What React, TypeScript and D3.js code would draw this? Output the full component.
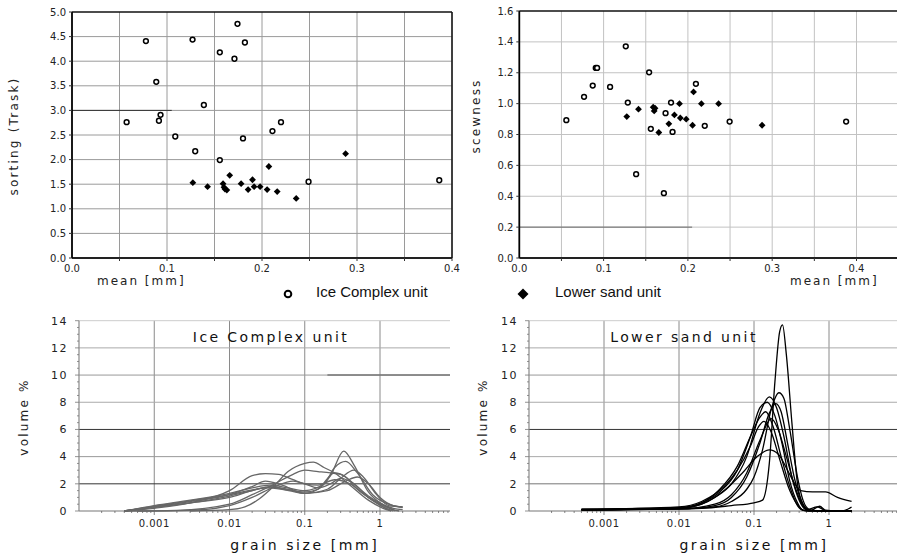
import React from "react";
import * as d3 from "d3";

const W = 897;
const H = 555;

// ---------- Top-left: mean [mm] vs sorting (Trask) ----------
const iceMeanA = [0.0575, 0.0778, 0.0887, 0.0915, 0.0932, 0.1087, 0.1269, 0.1297, 0.1388, 0.1556, 0.1556, 0.171, 0.1742, 0.18, 0.182, 0.211, 0.22, 0.249, 0.3866];
const iceSorting = [2.76, 4.41, 3.58, 2.79, 2.91, 2.47, 4.44, 2.17, 3.11, 4.18, 1.99, 4.05, 4.76, 2.43, 4.38, 2.58, 2.76, 1.55, 1.58];
const sandMeanA = [0.1272, 0.1427, 0.159, 0.16, 0.161, 0.163, 0.166, 0.178, 0.1854, 0.19, 0.1917, 0.198, 0.2054, 0.2072, 0.216, 0.236, 0.288];
const sandSorting = [1.53, 1.45, 1.51, 1.44, 1.4, 1.38, 1.68, 1.51, 1.39, 1.59, 1.45, 1.45, 1.39, 1.86, 1.35, 1.21, 2.12];

// ---------- Top-right: mean [mm] vs scewness ----------
const iceMeanB = [0.0558, 0.0768, 0.0871, 0.0907, 0.0923, 0.1077, 0.1263, 0.1287, 0.1386, 0.154, 0.156, 0.1715, 0.1735, 0.18, 0.1818, 0.2095, 0.22, 0.2495, 0.3877];
const iceSkew = [0.893, 1.044, 1.117, 1.231, 1.231, 1.108, 1.371, 1.007, 0.543, 1.203, 0.837, 0.42, 0.938, 1.007, 0.817, 1.128, 0.856, 0.884, 0.884];
const sandMeanB = [0.1275, 0.1414, 0.1588, 0.161, 0.16, 0.1655, 0.1774, 0.184, 0.19, 0.191, 0.198, 0.2055, 0.2067, 0.216, 0.2364, 0.288];
const sandSkew = [0.916, 0.964, 0.977, 0.97, 0.953, 0.813, 0.869, 0.927, 1.0, 0.907, 0.899, 0.86, 1.076, 1.0, 1.0, 0.86];

// ---------- Tick values ----------
const sortingTicks = [0, 0.5, 1, 1.5, 2, 2.5, 3, 3.5, 4, 4.5, 5];
const skewTicks = [0, 0.2, 0.4, 0.6, 0.8, 1.0, 1.2, 1.4, 1.6];
const meanTicks = [0, 0.1, 0.2, 0.3, 0.4];
const meanGrid = [0.05, 0.1, 0.15, 0.2, 0.25, 0.3, 0.35, 0.4, 0.45];
const volumeTicks = [0, 2, 4, 6, 8, 10, 12, 14];
const grainTicks = [0.001, 0.01, 0.1, 1];
const grainTickLabels = ["0.001", "0.01", "0.1", "1"];

// ---------- Grain-size curves: [grain size mm, volume %] ----------
const ic1 = [[0.0004, 0], [0.001, 0.35], [0.003, 0.75], [0.01, 1.2], [0.02, 1.55], [0.035, 1.75], [0.06, 1.55], [0.1, 1.4], [0.15, 1.6], [0.22, 2.6], [0.33, 4.4], [0.45, 3.4], [0.7, 1.4], [1, 0.6], [1.5, 0.1], [1.8, 0]];
const ic2 = [[0.0004, 0], [0.001, 0.4], [0.003, 0.8], [0.01, 1.3], [0.02, 1.7], [0.035, 1.9], [0.06, 1.7], [0.1, 1.5], [0.18, 2.0], [0.25, 3.2], [0.35, 3.65], [0.5, 2.8], [0.8, 1.2], [1.3, 0.5], [2, 0.25]];
const ic3 = [[0.003, 0], [0.01, 0.1], [0.016, 0.3], [0.025, 0.9], [0.04, 1.9], [0.06, 2.9], [0.1, 3.5], [0.13, 3.6], [0.18, 3.2], [0.25, 2.8], [0.4, 1.9], [0.7, 0.8], [1.1, 0.2], [1.4, 0]];
const ic4 = [[0.0004, 0], [0.002, 0.05], [0.01, 0.5], [0.02, 1.2], [0.04, 2.0], [0.07, 2.7], [0.1, 3.0], [0.15, 2.9], [0.22, 2.8], [0.3, 2.7], [0.45, 2.0], [0.7, 1.1], [1, 0.6], [1.5, 0.2], [2, 0.1]];
const ic5 = [[0.0004, 0], [0.001, 0.2], [0.003, 0.6], [0.01, 1.5], [0.02, 2.6], [0.03, 2.75], [0.045, 2.7], [0.07, 2.3], [0.1, 2.0], [0.15, 1.9], [0.25, 2.3], [0.4, 2.0], [0.7, 1.0], [1.2, 0.3], [1.6, 0]];
const ic6 = [[0.0004, 0], [0.001, 0.3], [0.003, 0.7], [0.01, 1.2], [0.02, 1.8], [0.03, 2.2], [0.05, 1.9], [0.1, 1.3], [0.2, 1.6], [0.3, 2.4], [0.45, 3.0], [0.6, 2.5], [0.9, 1.2], [1.3, 0.4], [2, 0.3]];
const ic7 = [[0.0004, 0], [0.001, 0.3], [0.003, 0.6], [0.01, 1.1], [0.02, 1.5], [0.035, 1.8], [0.06, 1.6], [0.1, 1.3], [0.15, 1.6], [0.25, 2.8], [0.35, 2.5], [0.5, 1.6], [0.8, 0.8], [1.2, 0.2], [1.5, 0]];
const ic8 = [[0.0006, 0], [0.003, 0.05], [0.01, 0.4], [0.02, 1.0], [0.04, 1.8], [0.07, 2.2], [0.1, 2.0], [0.15, 1.7], [0.22, 2.0], [0.3, 2.4], [0.45, 2.0], [0.7, 1.0], [1.1, 0.3], [1.4, 0]];
const ic9 = [[0.0004, 0], [0.001, 0.25], [0.003, 0.6], [0.01, 1.0], [0.02, 1.5], [0.03, 1.7], [0.05, 1.6], [0.1, 1.3], [0.2, 1.5], [0.35, 2.2], [0.5, 2.5], [0.7, 2.0], [1, 1.0], [1.5, 0.4], [2, 0.3]];
const iceCurves = [ic1, ic2, ic3, ic4, ic5, ic6, ic7, ic8, ic9];

const ls1 = [[0.0005, 0.1], [0.005, 0.15], [0.02, 0.2], [0.05, 0.4], [0.1, 0.6], [0.13, 0.8], [0.16, 3.5], [0.19, 9.5], [0.22, 13.2], [0.24, 13.7], [0.27, 11.5], [0.32, 6.5], [0.38, 2.0], [0.45, 0.5], [0.55, 0.05], [0.8, 0], [1.5, 0], [2, 0.3]];
const ls2 = [[0.0005, 0.1], [0.01, 0.15], [0.03, 0.3], [0.05, 0.7], [0.08, 1.6], [0.1, 2.5], [0.13, 4.5], [0.17, 7.5], [0.215, 8.7], [0.25, 8.3], [0.3, 6.0], [0.38, 2.5], [0.45, 0.8], [0.55, 0.1], [0.7, 0], [2, 0]];
const ls3 = [[0.0005, 0.05], [0.01, 0.2], [0.02, 0.5], [0.03, 1.0], [0.05, 2.0], [0.08, 4.0], [0.12, 7.2], [0.16, 8.4], [0.2, 7.6], [0.25, 5.5], [0.32, 2.5], [0.4, 0.8], [0.5, 0.1], [0.7, 0.3], [0.9, 0.05], [2, 0]];
const ls4 = [[0.0005, 0.1], [0.01, 0.15], [0.03, 0.4], [0.05, 1.0], [0.08, 2.5], [0.12, 5.0], [0.16, 7.2], [0.195, 7.9], [0.23, 7.3], [0.28, 5.0], [0.35, 2.3], [0.45, 0.5], [0.55, 0.05], [2, 0]];
const ls5 = [[0.0005, 0.1], [0.01, 0.2], [0.02, 0.6], [0.035, 1.4], [0.06, 3.0], [0.09, 5.5], [0.12, 7.6], [0.15, 8.0], [0.19, 7.0], [0.24, 4.8], [0.3, 2.2], [0.38, 0.6], [0.45, 0.05], [2, 0]];
const ls6 = [[0.0005, 0.15], [0.01, 0.25], [0.02, 0.6], [0.035, 1.6], [0.06, 3.3], [0.09, 5.5], [0.12, 6.9], [0.143, 7.3], [0.18, 6.2], [0.23, 4.0], [0.3, 1.8], [0.38, 0.4], [0.45, 0.05], [2, 0]];
const ls7 = [[0.0005, 0.1], [0.01, 0.3], [0.02, 0.7], [0.04, 1.8], [0.06, 3.0], [0.09, 4.8], [0.115, 6.2], [0.136, 6.6], [0.17, 5.8], [0.22, 3.8], [0.3, 1.5], [0.4, 0.3], [0.5, 0], [2, 0]];
const ls8 = [[0.0005, 0.1], [0.01, 0.15], [0.03, 0.5], [0.05, 1.2], [0.08, 2.8], [0.12, 5.2], [0.17, 6.8], [0.21, 6.0], [0.27, 4.0], [0.35, 1.8], [0.45, 0.4], [0.55, 0], [0.75, 0.35], [0.9, 0.05], [2, 0]];
const ls9 = [[0.0005, 0.1], [0.01, 0.2], [0.02, 0.5], [0.04, 1.5], [0.07, 2.8], [0.11, 4.0], [0.16, 4.5], [0.21, 4.2], [0.28, 3.0], [0.35, 2.0], [0.42, 1.5], [0.6, 1.4], [0.9, 1.4], [1.3, 1.0], [2, 0.7]];
const sandCurves = [ls1, ls2, ls3, ls4, ls5, ls6, ls7, ls8, ls9];

const TICK_FONT = "'DejaVu Sans', sans-serif";

function Circle({ cx, cy, r = 2.4, sw = 1.5 }: any) {
  return <circle cx={cx} cy={cy} r={r} fill="#fff" stroke="#000" strokeWidth={sw} />;
}
function Diamond({ cx, cy, s = 3.4 }: any) {
  return <path d={`M${cx},${cy - s}L${cx + s},${cy}L${cx},${cy + s}L${cx - s},${cy}Z`} fill="#000" />;
}

function ScatterPanel({ x, y, yTicks, yFmt, iceX, iceY, sandX, sandY, yLabel, yLabelX, yLabelY, xLabelX, hGridColor, vGridColor, rightEdge, frameRight, overlay }: any) {
  const [x0, x1] = [x(0), rightEdge];
  const [yb, yt] = [y(yTicks[0]), y(yTicks[yTicks.length - 1])];
  return (
    <g>
      {meanGrid.map((v: number) => x(v) <= rightEdge ? (
        <line key={"v" + v} x1={x(v)} x2={x(v)} y1={yt} y2={yb} stroke={vGridColor} strokeWidth={1} />
      ) : null)}
      {yTicks.slice(1, -1).map((v: number) => (
        <line key={"h" + v} x1={x0} x2={x1} y1={y(v)} y2={y(v)} stroke={hGridColor} strokeWidth={1} />
      ))}
      {overlay}
      {/* frame */}
      <line x1={x0} x2={x1} y1={yt} y2={yt} stroke="#111" strokeWidth={1.5} />
      <line x1={x0} x2={x1} y1={yb} y2={yb} stroke="#222" strokeWidth={1.8} />
      <line x1={x0} x2={x0} y1={yt} y2={yb} stroke="#000" strokeWidth={1.8} />
      {frameRight ? <line x1={x1} x2={x1} y1={yt} y2={yb} stroke="#111" strokeWidth={1.5} /> : null}
      {/* y ticks */}
      {yTicks.map((v: number) => (
        <g key={"yt" + v}>
          <line x1={x0 - 3} x2={x0} y1={y(v)} y2={y(v)} stroke="#333" />
          <text x={x0 - 6} y={y(v)} dy="0.35em" textAnchor="end" fontFamily={TICK_FONT} fontSize={10} fill="#222">{yFmt(v)}</text>
        </g>
      ))}
      {/* x ticks */}
      {meanGrid.map((v: number) => x(v) <= rightEdge ? (
        <line key={"xt" + v} x1={x(v)} x2={x(v)} y1={yb} y2={yb + 3} stroke="#333" />
      ) : null)}
      {meanTicks.map((v: number) => (
        <text key={"xl" + v} x={x(v)} y={yb + 14} textAnchor="middle" fontFamily={TICK_FONT} fontSize={10} fill="#222">{v.toFixed(1)}</text>
      ))}
      <text transform={`translate(${yLabelX},${yLabelY}) rotate(-90)`} textAnchor="middle" fontFamily={TICK_FONT} fontSize={12} letterSpacing={2.2} fill="#222">{yLabel}</text>
      <text x={xLabelX} y={yb + 27} fontFamily={TICK_FONT} fontSize={12} letterSpacing={2} fill="#222">mean [mm]</text>
      {/* points */}
      {iceX.map((v: number, i: number) => <Circle key={"c" + i} cx={x(v)} cy={y(iceY[i])} />)}
      {sandX.map((v: number, i: number) => <Diamond key={"d" + i} cx={x(v)} cy={y(sandY[i])} />)}
    </g>
  );
}

function CurvePanel({ id, x, y, curves, color, title, titleX, yLabelX, clipRight, gridColors, overlay }: any) {
  const line = d3.line<number[]>().x((d) => x(d[0])).y((d) => y(d[1])).curve(d3.curveMonotoneX);
  const [x0] = x.range();
  const yb = y(0);
  const yt = y(14);
  const decades = [0.001, 0.01, 0.1, 1, 10];
  const minor: number[] = [];
  for (let e = -4; e <= 0; e++) for (let k = 2; k <= 9; k++) minor.push(k * Math.pow(10, e));
  const yMinor = d3.range(0, 14.01, 0.5);
  return (
    <g>
      <clipPath id={id}>
        <rect x={0} y={0} width={clipRight} height={H} />
      </clipPath>
      <g clipPath={`url(#${id})`}>
        {decades.map((v) => (
          <line key={"v" + v} x1={x(v)} x2={x(v)} y1={yt} y2={yb} stroke="#8a8a8a" strokeWidth={1} />
        ))}
        {volumeTicks.slice(1).map((v: number, i: number) => (
          <line key={"h" + v} x1={x0} x2={x(10) + 20} y1={y(v)} y2={y(v)} stroke={gridColors[i]} strokeWidth={1} />
        ))}
        {overlay}
        <line x1={x0} x2={x(10) + 20} y1={yb} y2={yb} stroke="#777" strokeWidth={1.2} />
        {minor.map((v) => (
          <line key={"m" + v} x1={x(v)} x2={x(v)} y1={yb} y2={yb + 2} stroke="#666" strokeWidth={0.8} />
        ))}
        {decades.map((v) => (
          <line key={"mt" + v} x1={x(v)} x2={x(v)} y1={yb} y2={yb + 4} stroke="#666" strokeWidth={0.8} />
        ))}
        {curves.map((c: number[][], i: number) => (
          <path key={"c" + i} d={line(c) || ""} fill="none" stroke={color} strokeWidth={1.3} />
        ))}
      </g>
      <line x1={x0} x2={x0} y1={yt} y2={yb} stroke="#888" strokeWidth={1.2} />
      {yMinor.map((v: number) => (
        <line key={"ym" + v} x1={x0 - (v % 2 === 0 ? 4 : 2)} x2={x0} y1={y(v)} y2={y(v)} stroke="#777" strokeWidth={0.8} />
      ))}
      {volumeTicks.map((v: number) => (
        <text key={"yl" + v} x={x0 - 11} y={y(v)} dy="0.35em" textAnchor="end" fontFamily={TICK_FONT} fontSize={11} letterSpacing={1.5} fill="#222">{v}</text>
      ))}
      {grainTicks.map((v: number, i: number) => (
        <text key={"xl" + v} x={x(v)} y={yb + 16} textAnchor="middle" fontFamily={TICK_FONT} fontSize={10} letterSpacing={0.5} fill="#222">{grainTickLabels[i]}</text>
      ))}
      <text x={titleX} y={342} textAnchor="middle" fontFamily={TICK_FONT} fontSize={14} letterSpacing={2.4} fill="#111">{title}</text>
      <text transform={`translate(${yLabelX},${417}) rotate(-90)`} textAnchor="middle" fontFamily={TICK_FONT} fontSize={12} letterSpacing={2.2} fill="#222">volume %</text>
      <text x={x(0.1)} y={550} textAnchor="middle" fontFamily={TICK_FONT} fontSize={14} letterSpacing={2.6} fill="#111">grain size [mm]</text>
    </g>
  );
}

export default function App() {
  // top-left scales
  const xTL = d3.scaleLinear().domain([0, 0.4]).range([72, 452]);
  const yTL = d3.scaleLinear().domain([0, 5]).range([258, 12]);
  // top-right scales
  const xTR = d3.scaleLinear().domain([0, 0.5]).range([519.3, 940.8]);
  const yTR = d3.scaleLinear().domain([0, 1.6]).range([258, 11]);
  // bottom scales
  const xBL = d3.scaleLog().domain([1e-4, 10]).range([79, 455.25]);
  const xBR = d3.scaleLog().domain([1e-4, 10]).range([529, 904]);
  const yB = d3.scaleLinear().domain([0, 14]).range([511, 320.7]);

  const fmt1 = d3.format(".1f");

  return (
    <svg width={W} height={H} viewBox={`0 0 ${W} ${H}`} style={{ position: "absolute", left: 0, top: 0, background: "#fff" }}>
      <rect width={W} height={H} fill="#fff" />
      <ScatterPanel
        x={xTL} y={yTL} yTicks={sortingTicks} yFmt={fmt1}
        iceX={iceMeanA} iceY={iceSorting} sandX={sandMeanA} sandY={sandSorting}
        yLabel="sorting (Trask)" yLabelX={18} yLabelY={136} xLabelX={97}
        hGridColor="#9a9a9a" vGridColor="#9a9a9a" rightEdge={452} frameRight={true}
        overlay={<line x1={xTL(0)} x2={xTL(0.105)} y1={yTL(3)} y2={yTL(3)} stroke="#333" strokeWidth={1} />}
      />
      <ScatterPanel
        x={xTR} y={yTR} yTicks={skewTicks} yFmt={fmt1}
        iceX={iceMeanB} iceY={iceSkew} sandX={sandMeanB} sandY={sandSkew}
        yLabel="scewness" yLabelX={480} yLabelY={116} xLabelX={790}
        hGridColor="#c2c2c2" vGridColor="#c2c2c2" rightEdge={897} frameRight={false}
        overlay={<line x1={xTR(0)} x2={xTR(0.205)} y1={yTR(0.2)} y2={yTR(0.2)} stroke="#666" strokeWidth={1} />}
      />
      {/* legend */}
      <Circle cx={288} cy={294} r={3.3} sw={2} />
      <text x={316} y={297} fontFamily="'Liberation Sans', Arial, sans-serif" fontSize={15} fill="#111">Ice Complex unit</text>
      <Diamond cx={523} cy={294} s={5.5} />
      <text x={555} y={297} fontFamily="'Liberation Sans', Arial, sans-serif" fontSize={15} fill="#111">Lower sand unit</text>

      <CurvePanel
        id="clipBL" x={xBL} y={yB} curves={iceCurves} color="#676767"
        title="Ice Complex unit" titleX={271} yLabelX={28} clipRight={450}
        gridColors={["#333", "#999", "#333", "#aaa", "#999", "#aaa", "#ccc"]}
        overlay={<line x1={xBL(0.2)} x2={450} y1={yB(10)} y2={yB(10)} stroke="#777" strokeWidth={1.5} />}
      />
      <CurvePanel
        id="clipBR" x={xBR} y={yB} curves={sandCurves} color="#000"
        title="Lower sand unit" titleX={684} yLabelX={487} clipRight={897}
        gridColors={["#777", "#aaa", "#333", "#aaa", "#999", "#aaa", "#ccc"]}
        overlay={null}
      />
    </svg>
  );
}
